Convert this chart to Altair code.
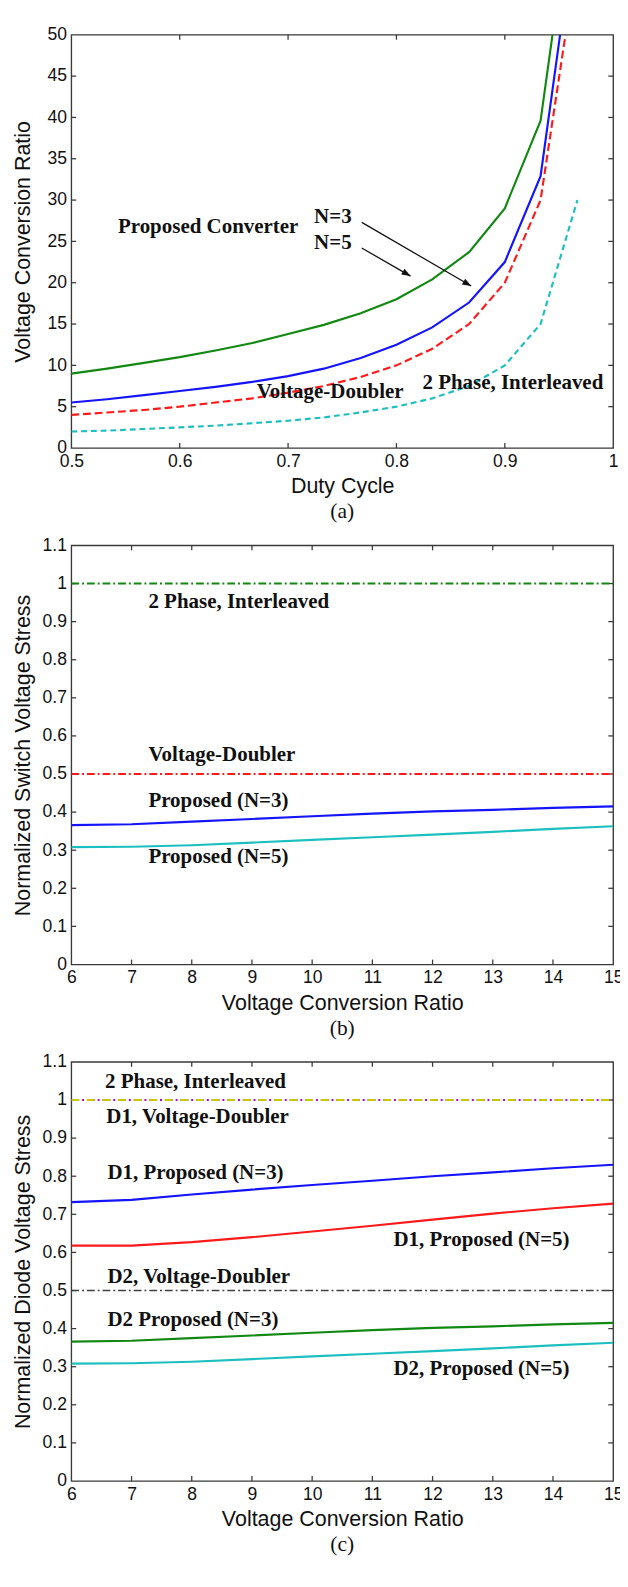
import math
import altair as alt
import pandas as pd

# ---------------- (a) Voltage conversion ratio vs duty cycle ----------------
a_x_ticks = [0.5, 0.6, 0.7, 0.8, 0.9, 1.0]
a_y_ticks = [0, 5, 10, 15, 20, 25, 30, 35, 40, 45, 50]

a_duty = [0.5, 0.533, 0.567, 0.6, 0.633, 0.667, 0.7, 0.733, 0.767, 0.8, 0.833, 0.867, 0.9, 0.933]
a_green_x = a_duty + [0.944]
a_green_y = [9.0, 9.6, 10.3, 11.0, 11.8, 12.7, 13.8, 14.9, 16.3, 18.0, 20.4, 23.7, 29.0, 39.6, 50.0]
a_blue_x = a_duty + [0.951]
a_blue_y = [5.5, 5.9, 6.4, 6.9, 7.4, 8.0, 8.7, 9.6, 10.9, 12.5, 14.6, 17.6, 22.5, 32.9, 50.0]
a_red_x = a_duty + [0.956]
a_red_y = [4.0, 4.3, 4.6, 5.0, 5.5, 6.0, 6.7, 7.5, 8.6, 10.0, 12.0, 15.0, 20.0, 30.0, 50.0]
a_cyan_x = a_duty + [0.967]
a_cyan_y = [2.0, 2.1, 2.3, 2.5, 2.7, 3.0, 3.3, 3.7, 4.3, 5.0, 6.0, 7.5, 10.0, 15.0, 30.0]

a_note_text = ["Proposed Converter", "N=3", "N=5", "Voltage-Doubler", "2 Phase, Interleaved"]
a_note_x = [0.543, 0.724, 0.724, 0.671, 0.824]
a_note_y = [26.7, 27.9, 24.8, 6.7, 7.8]

a_arrow_x1 = [0.768, 0.768]
a_arrow_y1 = [27.3, 24.2]
a_arrow_x2 = [0.869, 0.813]
a_arrow_y2 = [19.6, 20.8]

# ---------------- (b) Normalized switch voltage stress ----------------
bc_x_ticks = [6, 7, 8, 9, 10, 11, 12, 13, 14, 15]
bc_y_ticks = [0, 0.1, 0.2, 0.3, 0.4, 0.5, 0.6, 0.7, 0.8, 0.9, 1.0, 1.1]

ratio = [6, 7, 8, 9, 10, 11, 12, 13, 14, 15]
flat_x = [6, 15]
b_interleaved = [1.0, 1.0]
b_doubler = [0.5, 0.5]
b_n3 = [0.366, 0.368, 0.375, 0.382, 0.389, 0.396, 0.402, 0.406, 0.411, 0.415]
b_n5 = [0.308, 0.309, 0.313, 0.320, 0.327, 0.334, 0.341, 0.348, 0.356, 0.363]

b_note_text = ["2 Phase, Interleaved", "Voltage-Doubler", "Proposed (N=3)", "Proposed (N=5)"]
b_note_x = [7.28, 7.28, 7.28, 7.28]
b_note_y = [0.95, 0.549, 0.43, 0.283]

# ---------------- (c) Normalized diode voltage stress ----------------
c_interleaved = [1.0, 1.0]
c_d1_doubler = [1.0, 1.0]
c_d2_doubler = [0.5, 0.5]
c_d1_n3 = [0.732, 0.738, 0.752, 0.765, 0.777, 0.788, 0.800, 0.810, 0.821, 0.830]
c_d1_n5 = [0.618, 0.618, 0.627, 0.640, 0.655, 0.670, 0.686, 0.702, 0.716, 0.728]
c_d2_n3 = [0.366, 0.368, 0.375, 0.382, 0.389, 0.396, 0.402, 0.406, 0.411, 0.415]
c_d2_n5 = [0.308, 0.309, 0.313, 0.320, 0.327, 0.334, 0.341, 0.348, 0.356, 0.363]

c_note_text = ["2 Phase, Interleaved", "D1, Voltage-Doubler", "D1, Proposed (N=3)",
               "D1, Proposed (N=5)", "D2, Voltage-Doubler", "D2 Proposed (N=3)",
               "D2, Proposed (N=5)"]
c_note_x = [6.56, 6.58, 6.6, 11.35, 6.6, 6.6, 11.35]
c_note_y = [1.047, 0.956, 0.809, 0.631, 0.535, 0.423, 0.293]

# ---------------- styling ----------------
W = 556
HA, HB, HC = 424, 430, 430
GAP = 100
SANS = "Liberation Sans"
SERIF = "Liberation Serif"
TICK_FS = 18
TITLE_FS = 22
NOTE_FS = 21.5
GREEN = "#118811"
BLUE = "#1414ff"
RED = "#ff1a1a"
CYAN = "#1cbfbf"
YELLOW = "#c8c800"
MAGENTA = "#bf00bf"
DARK = "#404040"
FRAME = "#3a3a3a"
DASHDOT = [8, 3, 2, 3]


def make_panel(xdom, ydom, xticks, yticks, xtitle, ytitle, H, title_pad):
    xscale = alt.Scale(domain=xdom, nice=False, zero=False)
    yscale = alt.Scale(domain=ydom, nice=False, zero=False)
    common = dict(format="~g", ticks=False, domain=False, grid=False,
                  labelFont=SANS, labelFontSize=TICK_FS, labelColor="#111", labelPadding=5,
                  labelFlush=False, labelOverlap=False,
                  titleFont=SANS, titleFontSize=TITLE_FS, titleFontWeight="normal",
                  titleColor="#111")
    xaxis = alt.Axis(values=xticks, title=xtitle, titlePadding=6, **common)
    yaxis = alt.Axis(values=yticks, title=ytitle, titlePadding=title_pad, **common)

    def X(field="x"):
        return alt.X(f"{field}:Q", scale=xscale, axis=xaxis)

    def Y(field="y"):
        return alt.Y(f"{field}:Q", scale=yscale, axis=yaxis)

    def line(xs, ys, color, dash=None, width=2.2):
        kw = dict(color=color, strokeWidth=width, clip=True)
        if dash:
            kw["strokeDash"] = dash
        return alt.Chart(pd.DataFrame({"x": xs, "y": ys})).mark_line(**kw).encode(x=X(), y=Y())

    def notes(texts, xs, ys):
        return alt.Chart(pd.DataFrame({"x": xs, "y": ys, "t": texts})).mark_text(
            font=SERIF, fontWeight="bold", fontSize=NOTE_FS, align="left", baseline="middle",
            color="#111").encode(x=X(), y=Y(), text="t:N")

    L = 5
    xin = pd.DataFrame({"x": xticks[1:-1]})
    yin = pd.DataFrame({"y": yticks[1:-1]})
    tick_style = dict(color=FRAME, strokeWidth=1.3)
    ticks = [
        alt.Chart(xin).mark_rule(**tick_style).encode(x=X(), y=alt.value(H), y2=alt.value(H - L)),
        alt.Chart(xin).mark_rule(**tick_style).encode(x=X(), y=alt.value(0), y2=alt.value(L)),
        alt.Chart(yin).mark_rule(**tick_style).encode(y=Y(), x=alt.value(0), x2=alt.value(L)),
        alt.Chart(yin).mark_rule(**tick_style).encode(y=Y(), x=alt.value(W - L), x2=alt.value(W)),
    ]
    return X, Y, line, notes, ticks


def tag_title(text):
    return alt.TitleParams(text, orient="bottom", font=SERIF, fontSize=TITLE_FS,
                           fontWeight="normal", color="#111", anchor="middle",
                           frame="group", offset=5)


# ---- panel (a)
X, Y, line, notes, ticks_a = make_panel([0.5, 1.0], [0, 50], a_x_ticks, a_y_ticks,
                                        "Duty Cycle", "Voltage Conversion Ratio", HA, 13)
sx = W / 0.5
sy = HA / 50.0
# arrow-head rotation (clockwise from "up") from the on-screen direction of each arrow
ang = [math.degrees(math.atan2((x2 - x1) * sx, -((y1 - y2) * sy)))
       for x1, y1, x2, y2 in zip(a_arrow_x1, a_arrow_y1, a_arrow_x2, a_arrow_y2)]
arrows = pd.DataFrame({"x": a_arrow_x1, "y": a_arrow_y1, "x2": a_arrow_x2, "y2": a_arrow_y2,
                       "ang": ang})
arrow_shafts = alt.Chart(arrows).mark_rule(color="#111", strokeWidth=1.3).encode(
    x=X(), y=Y(), x2="x2:Q", y2="y2:Q")
arrow_heads = alt.Chart(arrows).mark_point(
    shape="M0,0L-0.38,1L0.38,1Z", filled=True, size=330, color="#111", opacity=1,
    strokeWidth=0).encode(x=X("x2"), y=Y("y2"), angle=alt.Angle("ang:Q", scale=None))

panel_a = alt.layer(
    *ticks_a,
    line(a_cyan_x, a_cyan_y, CYAN, [6, 4]),
    line(a_red_x, a_red_y, RED, [8, 4]),
    line(a_blue_x, a_blue_y, BLUE),
    line(a_green_x, a_green_y, GREEN),
    notes(a_note_text, a_note_x, a_note_y),
    arrow_shafts, arrow_heads,
).properties(width=W, height=HA, title=tag_title("(a)"))

# ---- panel (b)
X, Y, line, notes, ticks_b = make_panel([6, 15], [0, 1.1], bc_x_ticks, bc_y_ticks,
                                        "Voltage Conversion Ratio",
                                        "Normalized Switch Voltage Stress", HB, 8)
panel_b = alt.layer(
    *ticks_b,
    line(flat_x, b_interleaved, GREEN, DASHDOT),
    line(flat_x, b_doubler, RED, DASHDOT),
    line(ratio, b_n3, BLUE),
    line(ratio, b_n5, CYAN),
    notes(b_note_text, b_note_x, b_note_y),
).properties(width=W, height=HB, title=tag_title("(b)"))

# ---- panel (c)
X, Y, line, notes, ticks_c = make_panel([6, 15], [0, 1.1], bc_x_ticks, bc_y_ticks,
                                        "Voltage Conversion Ratio",
                                        "Normalized Diode Voltage Stress", HC, 8)
panel_c = alt.layer(
    *ticks_c,
    line(flat_x, c_interleaved, MAGENTA, DASHDOT),
    line(flat_x, c_d1_doubler, YELLOW, [8, 8]),
    line(flat_x, c_d2_doubler, DARK, DASHDOT, 1.7),
    line(ratio, c_d1_n3, BLUE),
    line(ratio, c_d1_n5, RED),
    line(ratio, c_d2_n3, GREEN),
    line(ratio, c_d2_n5, CYAN),
    notes(c_note_text, c_note_x, c_note_y),
).properties(width=W, height=HC, title=tag_title("(c)"))

chart = alt.vconcat(panel_a, panel_b, panel_c, spacing=GAP, bounds="flush").properties(
    padding={"left": 3, "top": -3, "right": -4, "bottom": 0}
).configure_view(stroke=FRAME, strokeWidth=1.4)

chart.save("out.html", embed_options={"renderer": "svg", "actions": False})
